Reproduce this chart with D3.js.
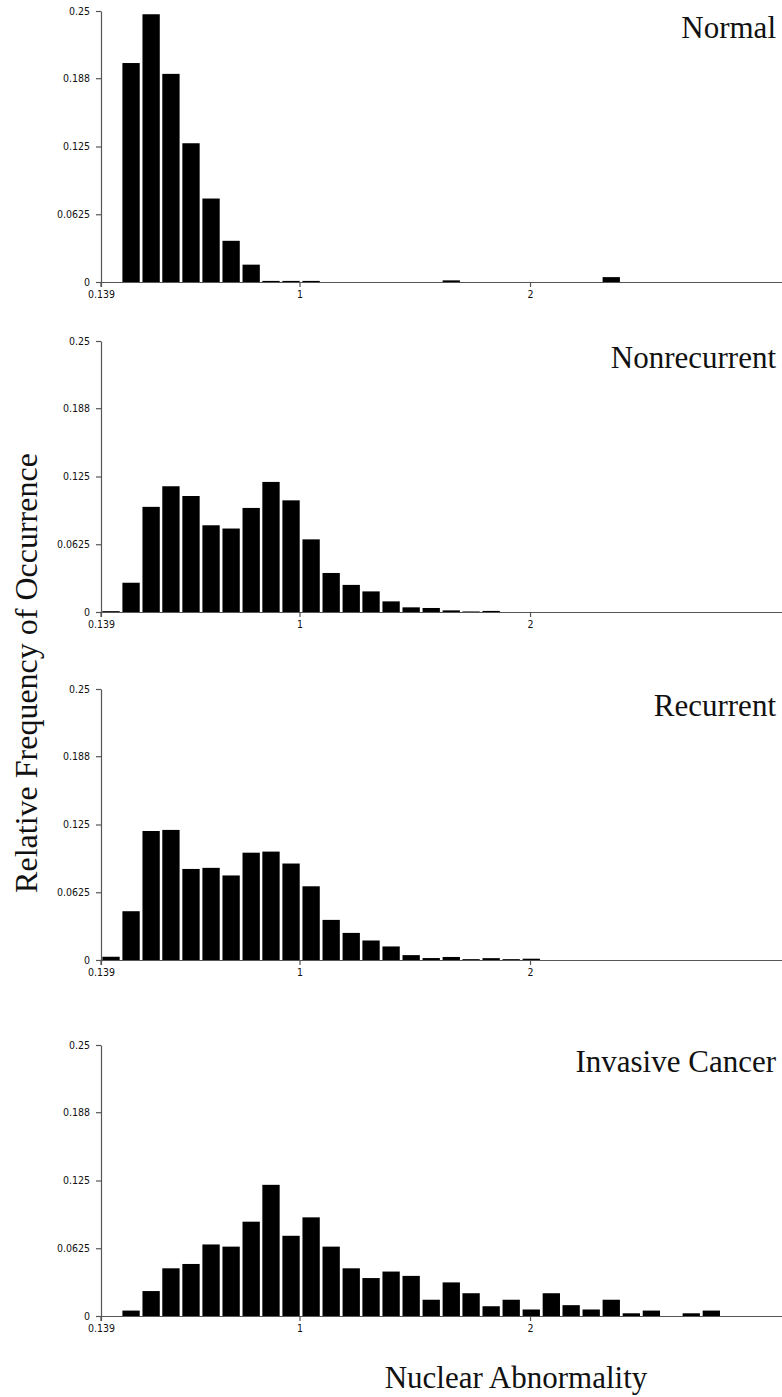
<!DOCTYPE html>
<html>
<head>
<meta charset="utf-8">
<script src="https://cdn.jsdelivr.net/npm/d3@7"></script>
<style>
  body { margin: 0; background: #fff; }
  svg { display: block; }
  .tick text { font-family: "DejaVu Sans Condensed", "DejaVu Sans", sans-serif; font-size: 10.5px; fill: #111; }
  .axis path, .axis line { stroke: #555; stroke-width: 1.2; }
  .title, .label { font-family: "Liberation Serif", "Times New Roman", serif; fill: #111; }
</style>
</head>
<body>
<div id="chart"></div>
<script>
// Histograms of nuclear abnormality, four groups

// lower edges of the bins (nuclear abnormality)
const binLower = [0.139, 0.226, 0.313, 0.399, 0.486, 0.573, 0.660, 0.747, 0.833, 0.920,
  1.007, 1.094, 1.181, 1.267, 1.354, 1.441, 1.528, 1.615, 1.701, 1.788,
  1.875, 1.962, 2.049, 2.135, 2.222, 2.309, 2.396, 2.483, 2.569, 2.656, 2.743];
const binWidth = 0.0868;

const groups = ["Normal", "Nonrecurrent", "Recurrent", "Invasive Cancer"];

const normal = [0, 0.202, 0.247, 0.192, 0.128, 0.077, 0.038, 0.016, 0.001, 0.001,
  0.001, 0, 0, 0, 0, 0, 0, 0.0015, 0, 0,
  0, 0, 0, 0, 0, 0.0045, 0, 0, 0, 0, 0];
const nonrecurrent = [0.0008, 0.027, 0.097, 0.116, 0.107, 0.080, 0.077, 0.096, 0.120, 0.103,
  0.067, 0.036, 0.025, 0.019, 0.0098, 0.0043, 0.0037, 0.0015, 0.0005, 0.001,
  0, 0, 0, 0, 0, 0, 0, 0, 0, 0, 0];
const recurrent = [0.003, 0.045, 0.119, 0.120, 0.084, 0.085, 0.078, 0.099, 0.100, 0.089,
  0.068, 0.037, 0.025, 0.018, 0.0125, 0.0045, 0.0018, 0.0028, 0.0008, 0.0017,
  0.0008, 0.0012, 0, 0, 0, 0, 0, 0, 0, 0, 0];
const invasive = [0, 0.005, 0.023, 0.044, 0.048, 0.066, 0.064, 0.087, 0.121, 0.074,
  0.091, 0.064, 0.044, 0.035, 0.041, 0.037, 0.015, 0.031, 0.021, 0.009,
  0.015, 0.006, 0.021, 0.010, 0.006, 0.015, 0.0025, 0.005, 0, 0.0025, 0.005];

const seriesList = [normal, nonrecurrent, recurrent, invasive];

const yTicks = [0, 0.0625, 0.125, 0.188, 0.25];
const yTickLabels = ["0", "0.0625", "0.125", "0.188", "0.25"];
const xTicks = [0.139, 1, 2];
const xTickLabels = ["0.139", "1", "2"];

const [w, h] = [782, 1397];
const left = 101;
const panelTops = [11, 341, 689, 1045];
const panelH = 271;

const svg = d3.select("#chart").append("svg")
  .attr("width", w)
  .attr("height", h);

const xScale = d3.scaleLinear()
  .domain([0.139, 3.093])
  .range([left, w]);

groups.forEach((name, i) => {
  let top = panelTops[i];
  let data = seriesList[i];

  const yScale = d3.scaleLinear()
    .domain([0, 0.25])
    .range([top + panelH, top]);

  let g = svg.append("g").attr("class", "panel");

  // bars with a thin white gap between them
  g.selectAll("rect")
    .data(data.map((v, k) => ({ x0: binLower[k], v: v })).filter(d => d.v > 0))
    .enter()
    .append("rect")
    .attr("x", d => xScale(d.x0) + 1.35)
    .attr("width", d => xScale(d.x0 + binWidth) - xScale(d.x0) - 2.7)
    .attr("y", d => yScale(d.v))
    .attr("height", d => yScale(0) - yScale(d.v))
    .attr("fill", "#000");

  const xAxis = d3.axisBottom(xScale)
    .tickValues(xTicks)
    .tickFormat((d, j) => xTickLabels[j])
    .tickSize(5)
    .tickSizeOuter(0)
    .tickPadding(4);

  g.append("g")
    .attr("class", "axis")
    .attr("transform", `translate(0,${yScale(0)})`)
    .call(xAxis);

  const yAxis = d3.axisLeft(yScale)
    .tickValues(yTicks)
    .tickFormat((d, j) => yTickLabels[j])
    .tickSize(5)
    .tickSizeOuter(0)
    .tickPadding(6);

  g.append("g")
    .attr("class", "axis")
    .attr("transform", `translate(${left},0)`)
    .call(yAxis);

  // small extension of the y axis below the baseline
  g.append("line")
    .attr("x1", left).attr("x2", left)
    .attr("y1", yScale(0)).attr("y2", yScale(0) + 5)
    .attr("stroke", "#555").attr("stroke-width", 1.2);

  g.append("text")
    .attr("class", "title")
    .attr("x", 776)
    .attr("y", top + 27)
    .attr("text-anchor", "end")
    .style("font-size", "31px")
    .text(name);
});

svg.append("text")
  .attr("class", "label")
  .attr("transform", "translate(37,673) rotate(-90)")
  .attr("text-anchor", "middle")
  .style("font-size", "32px")
  .text("Relative Frequency of Occurrence");

svg.append("text")
  .attr("class", "label")
  .attr("x", 516)
  .attr("y", 1388)
  .attr("text-anchor", "middle")
  .style("font-size", "31px")
  .text("Nuclear Abnormality");
</script>
</body>
</html>
